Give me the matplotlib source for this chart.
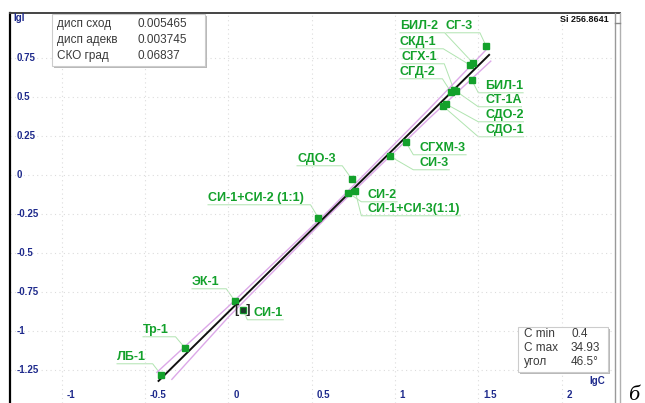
import matplotlib
matplotlib.use("Agg")
import matplotlib.pyplot as plt
from matplotlib.lines import Line2D
from matplotlib.patches import Rectangle

# sample labels and their points (lgC, lgI)
names = ["ЛБ-1", "Тр-1", "ЭК-1", "СИ-1", "СИ-1+СИ-2 (1:1)", "СДО-3", "СИ-2",
         "СИ-1+СИ-3(1:1)", "СИ-3", "СГХМ-3", "СДО-1", "СДО-2", "СТ-1А",
         "БИЛ-1", "СГД-2", "СГХ-1", "СКД-1", "БИЛ-2", "СГ-3"]
lgC = [-0.405, -0.26, 0.04, 0.087, 0.54, 0.74, 0.72, 0.76, 0.97, 1.066,
       1.288, 1.306, 1.366, 1.46, 1.336, 1.354, 1.45, 1.468, 1.547]
lgI = [-1.28, -1.11, -0.81, -0.865, -0.275, -0.025, -0.115, -0.10, 0.12, 0.21,
       0.442, 0.455, 0.538, 0.61, 0.532, 0.545, 0.705, 0.718, 0.827]

# calibration line and confidence curves
fit_x = [-0.42, 1.565]
fit_y = [-1.32, 0.77]
upper_x = [-0.43, 0.0, 0.6, 1.2, 1.56]
upper_y = [-1.265, -0.842, -0.23, 0.418, 0.817]
lower_x = [-0.34, 0.0, 0.6, 1.2, 1.575]
lower_y = [-1.31, -0.91, -0.26, 0.358, 0.73]

x_ticks = [-1, -0.5, 0, 0.5, 1, 1.5, 2]
x_tick_labels = ["-1", "-0.5", "0", "0.5", "1", "1.5", "2"]
y_ticks = [0.75, 0.5, 0.25, 0, -0.25, -0.5, -0.75, -1, -1.25]
y_tick_labels = ["0.75", "0.5", "0.25", "0", "-0.25", "-0.5", "-0.75", "-1", "-1.25"]

stats_names = ["дисп сход", "дисп адекв", "СКО град"]
stats_values = ["0.005465", "0.003745", "0.06837"]
range_names = ["C min", "C max", "угол"]
range_values = ["0.4", "34.93", "46.5°"]

W, H = 645, 403
GREEN = "#13a12b"
LEADER = "#b0e4b0"
BLUE = "#1e2a8c"


def px(x, y):
    return x / W, 1 - y / H


# text label positions (left edge, centre) in pixels, one per name
label_px = [(117, 357), (143, 330), (192, 282), (254, 313), (208, 198),
            (297, 159), (368, 195), (368, 209), (420, 163), (420, 148),
            (485, 130), (485, 115), (485, 100), (485, 86), (400, 72),
            (402, 57), (400, 42), (400, 26), (446, 26)]

fig = plt.figure(figsize=(W / 100, H / 100), dpi=100)
plt.rcParams["font.family"] = ["Liberation Sans", "DejaVu Sans"]

ax = fig.add_axes([10 / W, 0, 607 / W, 390 / H])
ax.set_xlim(-1.312, 2.333)
ax.set_ylim(-1.4615, 1.0385)
for s in ax.spines.values():
    s.set_visible(False)
ax.set_xticks(x_ticks)
ax.set_yticks(y_ticks)
ax.tick_params(length=0, labelbottom=False, labelleft=False)
ax.grid(True, color="#dcdcdc", linestyle=(0, (1, 3)), linewidth=0.8)

# frame
fig.add_artist(Line2D([10 / W, 10 / W], [0, 1 - 13 / H], color="black", lw=1.6))
fig.add_artist(Line2D([10 / W, 620 / W], [1 - 13 / H] * 2, color="#444444", lw=1.4))
fig.add_artist(Line2D([615 / W] * 2, [0, 1 - 13 / H], color="#999999", lw=1.0))
fig.add_artist(Line2D([620 / W] * 2, [0, 1 - 13 / H], color="#b0b0b0", lw=1.0))
fig.add_artist(Line2D([615 / W, 620 / W], [1 - 23 / H] * 2, color="#888888", lw=1.0))

# tick labels drawn inside the plot
for v, t in zip(x_ticks, x_tick_labels):
    ax.text(v + 0.028, -1.41, t, color=BLUE, fontsize=7, fontweight="bold",
            ha="left", va="center")
for v, t in zip(y_ticks, y_tick_labels):
    ax.text(-1.272, v, t, color=BLUE, fontsize=7, fontweight="bold",
            ha="left", va="center")
fig.text(*px(13, 18), "lgI", color=BLUE, fontsize=7, fontweight="bold",
         ha="left", va="center")
fig.text(*px(589, 381), "lgC", color=BLUE, fontsize=7, fontweight="bold",
         ha="left", va="center")

# lines
ax.plot(upper_x, upper_y, color="#dca8e8", lw=1.0, zorder=2)
ax.plot(lower_x, lower_y, color="#dca8e8", lw=1.0, zorder=2)
ax.plot(fit_x, fit_y, color="#111111", lw=1.4, zorder=3)

# points
ax.plot(lgC, lgI, "s", color=GREEN, markersize=4.2, zorder=4)
i_si1 = names.index("СИ-1")
ax.plot(lgC[i_si1], lgI[i_si1], "s", color="#1d3d2a", markersize=3.2, zorder=5)
ax.text(lgC[i_si1], lgI[i_si1], "[  ]", color="#222222", fontsize=9,
        fontweight="bold", ha="center", va="center", zorder=5)

# labels with leader lines
fig.canvas.draw()
renderer = fig.canvas.get_renderer()
inv = ax.transData.inverted()
for name, (lx, ly), cx, cy in zip(names, label_px, lgC, lgI):
    tx, ty = inv.transform(fig.transFigure.transform(px(lx, ly)))
    t = ax.text(tx, ty, name, color=GREEN, fontsize=9, fontweight="bold",
                ha="left", va="center", zorder=6)
    bb = t.get_window_extent(renderer)
    (x0, y0), (x1, y1) = inv.transform([[bb.x0, bb.y0], [bb.x1, bb.y1]])
    uy = y0 - 0.005
    if x1 < cx:
        ax.plot([x0, x1 + 0.04, cx], [uy, uy, cy], color=LEADER, lw=0.7, zorder=1)
    else:
        ax.plot([x1, x0 - 0.04, cx], [uy, uy, cy], color=LEADER, lw=0.7, zorder=1)


def info_box(x0, y0, x1, y1, keys, vals, kx, vx, rows):
    fig.add_artist(Rectangle(px(x0 + 2, y1 + 2), (x1 - x0) / W, (y1 - y0) / H,
                             facecolor="#b8b8b8", edgecolor="none", zorder=7))
    fig.add_artist(Rectangle(px(x0, y1), (x1 - x0) / W, (y1 - y0) / H,
                             facecolor="white", edgecolor="#cccccc", lw=0.8, zorder=8))
    for k, v, ry in zip(keys, vals, rows):
        fig.text(*px(kx, ry), k, color="#3a3a3a", fontsize=8.5, ha="left",
                 va="center", zorder=9)
        fig.text(*px(vx, ry), v, color="#3a3a3a", fontsize=8.5, ha="left",
                 va="center", zorder=9)


info_box(52, 14, 205, 66, stats_names, stats_values, 57, 137, [24, 40, 56])
info_box(518, 327, 608, 372, range_names, range_values, 524, 571, [334, 348, 362])

fig.text(*px(609, 20), "Si 256.8641", color="#111111", fontsize=6.5,
         fontweight="bold", ha="right", va="center")
fig.text(*px(628, 395), "б", family=["Liberation Serif", "DejaVu Serif"],
         fontsize=16, style="italic", ha="left", va="center")

fig.savefig("out.png", dpi=100)
